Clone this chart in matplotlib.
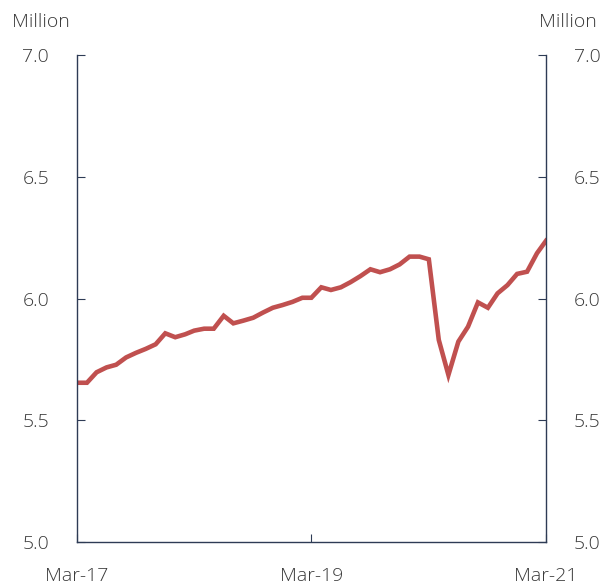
import matplotlib
matplotlib.use('Agg')
import matplotlib.pyplot as plt
import pandas as pd

# monthly employment, millions, Mar-2017 to Mar-2021
months = pd.date_range('2017-03-01', '2021-03-01', freq='MS')
employed = [5.654, 5.654, 5.697, 5.717, 5.728, 5.758, 5.777, 5.793, 5.812, 5.857,
            5.841, 5.853, 5.868, 5.876, 5.876, 5.929, 5.898, 5.909, 5.921, 5.942,
            5.962, 5.973, 5.986, 6.003, 6.003, 6.046, 6.035, 6.046, 6.067, 6.092,
            6.120, 6.108, 6.120, 6.140, 6.172, 6.172, 6.161, 5.830, 5.686, 5.823,
            5.884, 5.984, 5.962, 6.021, 6.055, 6.101, 6.110, 6.186, 6.237]
y_ticks = [5.0, 5.5, 6.0, 6.5, 7.0]
x_ticks = ['2017-03-01', '2019-03-01', '2021-03-01']
x_labels = ['Mar-17', 'Mar-19', 'Mar-21']

plt.rcParams['font.family'] = ['Open Sans', 'DejaVu Sans']
txt = '#3a3a3a'
axcol = '#2E3B55'
fs = 14

fig = plt.figure(figsize=(6.09, 5.87), dpi=100)
ax = fig.add_axes([77 / 609, 1 - 542 / 587, 469 / 609, 487 / 587])
ax.plot(months, employed, color='#C0504F', lw=3.3, solid_joinstyle='miter')

ax.set_xlim(months[0], months[-1])
ax.set_ylim(5.0, 7.0)
ax.set_yticks(y_ticks)
ax.set_yticklabels(['%.1f' % v for v in y_ticks])
ax.set_xticks(pd.to_datetime(x_ticks))
ax.set_xticklabels(x_labels)

for s in ['left', 'right', 'bottom']:
    ax.spines[s].set_color(axcol)
    ax.spines[s].set_linewidth(1.0)
ax.spines['top'].set_visible(False)

ax.tick_params(axis='y', direction='in', length=6, color=axcol, labelsize=fs,
               labelcolor=txt, left=True, right=True, labelleft=True,
               labelright=True, pad=20)
ax.tick_params(axis='x', direction='in', length=6, color=axcol, labelsize=fs,
               labelcolor=txt, pad=18)
for lab in ax.get_xticklabels() + ax.get_yticklabels():
    lab.set_fontweight('light')

fig.text(12 / 609, 1 - 22 / 587, 'Million', fontsize=fs, color=txt,
         ha='left', va='center', fontweight='light')
fig.text(597 / 609, 1 - 22 / 587, 'Million', fontsize=fs, color=txt,
         ha='right', va='center', fontweight='light')

fig.savefig('out.png', dpi=100)
